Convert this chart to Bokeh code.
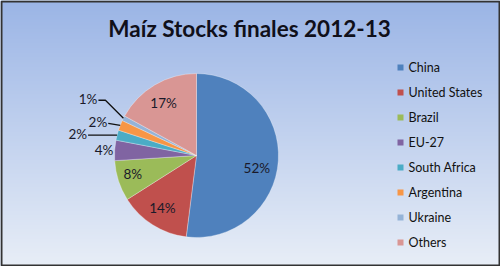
import numpy as np
from bokeh.plotting import figure
from bokeh.models import Range1d, ColumnDataSource
from bokeh.embed import file_html
from bokeh.resources import INLINE
from bokeh.core.properties import value

# ---- data ----
title = "Maíz Stocks finales 2012-13"
countries = ["China", "United States", "Brazil", "EU-27", "South Africa",
             "Argentina", "Ukraine", "Others"]
shares = [52, 14, 8, 4, 2, 2, 1, 17]
colors = ["#4F81BD", "#C0504D", "#9BBB59", "#8064A2", "#4BACC6",
          "#F79646", "#95B3D7", "#D99694"]

# ---- layout / style ----
W, H = 500, 266
CX, CY, R = 196, H - 155, 82
FONT = "Lato"

p = figure(width=W, height=H, x_range=Range1d(0, W), y_range=Range1d(0, H),
           output_backend="svg", toolbar_location=None, min_border=0)
p.xaxis.visible = False
p.yaxis.visible = False
p.xgrid.visible = False
p.ygrid.visible = False
p.outline_line_color = None
p.background_fill_color = "#c2d2ee"
p.border_fill_color = "#c2d2ee"

# gradient background
top = np.array([155, 181, 230], dtype=float)
bot = np.array([232, 238, 247], dtype=float)
img = np.zeros((H, 1), dtype=np.uint32)
view = img.view(dtype=np.uint8).reshape((H, 1, 4))
for i in range(H):
    f = 1 - i / (H - 1)
    c = top * (1 - f) + bot * f
    view[i, 0, 0:3] = c.astype(np.uint8)
    view[i, 0, 3] = 255
p.image_rgba(image=[img], x=0, y=0, dw=W, dh=H)

# border frame
p.rect(x=W / 2, y=H / 2, width=W - 2, height=H - 2, fill_color=None,
       line_color="#333333", line_width=2)

# title
p.text(x=[W / 2 - 1], y=[H - 28], text=[title], text_font=value(FONT),
       text_font_style="bold", text_font_size="22.5px", text_align="center",
       text_baseline="middle", text_color="#10101a")

# pie
total = float(sum(shares))
fr = np.array(shares) / total
cum = np.concatenate([[0], np.cumsum(fr)])
start = np.pi / 2 - 2 * np.pi * cum[:-1]
end = np.pi / 2 - 2 * np.pi * cum[1:]
mid = (start + end) / 2
src = ColumnDataSource(dict(start=start, end=end, color=colors))
p.wedge(x=CX, y=CY, radius=R, start_angle="start", end_angle="end",
        direction="clock", fill_color="color", line_color="white",
        line_alpha=0.5, line_width=0.6, source=src)

labels = [f"{s}%" for s in shares]
# inside / near labels: radius factor and angle nudge (deg)
inner = {0: (0.75, -7.7), 1: (0.76, -0.8), 2: (0.81, -1.5), 3: (1.13, 0.5),
         7: (0.76, 1.3)}
lx, ly, lt = [], [], []
for i, (rf, nd) in inner.items():
    a = mid[i] + np.deg2rad(nd)
    lx.append(CX + rf * R * np.cos(a))
    ly.append(CY + rf * R * np.sin(a))
    lt.append(labels[i])
p.text(x=lx, y=ly, text=lt, text_font=value(FONT), text_font_size="13.5px",
       text_align="center", text_baseline="middle", text_color="#1a1a2a")

# outside labels with leader lines: offsets from slice edge point (screen px)
outer = {4: [(-29, 0), (-29, 0)], 5: [(-12, 2), (-12, 2)],
         6: [(-25, 18), (-18, 18)]}
ox, oy, ot = [], [], []
for i, pts in outer.items():
    ex = CX + R * np.cos(mid[i])
    ey = CY + R * np.sin(mid[i])
    (tx, ty), (bx, by) = pts
    xs = [ex + tx, ex + bx, ex]
    ys = [ey + ty, ey + by, ey]
    p.line(x=xs, y=ys, line_color="#111111", line_width=1.3)
    ox.append(ex + tx - 1)
    oy.append(ey + ty + 1)
    ot.append(labels[i])
p.text(x=ox, y=oy, text=ot, text_font=value(FONT), text_font_size="13.5px",
       text_align="right", text_baseline="middle", text_color="#1a1a2a")

# legend
n = len(countries)
leg_y = [H - (67 + 25 * i) for i in range(n)]
p.scatter(x=[400] * n, y=leg_y, marker="square", size=6, fill_color=colors,
          line_color=None)
p.text(x=[408] * n, y=leg_y, text=countries, text_font=value(FONT),
       text_font_size="12.5px", text_align="left", text_baseline="middle",
       text_color="#111111")

open("out.html", "w").write(file_html(p, INLINE))
